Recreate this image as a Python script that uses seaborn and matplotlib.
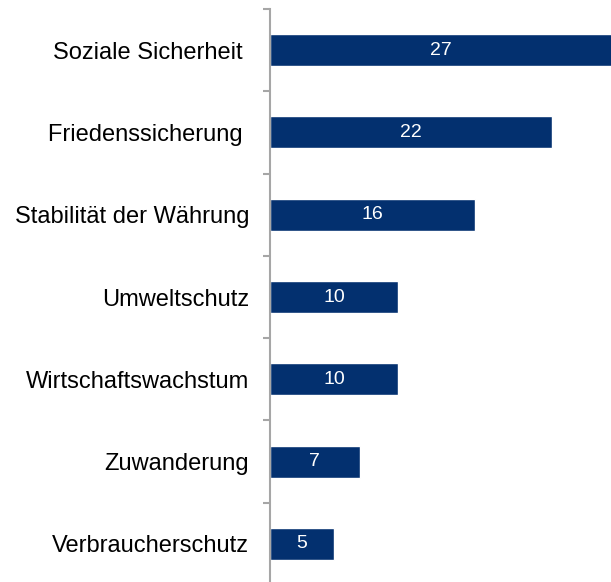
"""Horizontal bar chart: Themen-Prioritaeten."""

import matplotlib
import matplotlib.pyplot as plt
import numpy as np
import pandas as pd
import seaborn as sns

matplotlib.use("Agg")

categories = [
    "Soziale Sicherheit ",
    "Friedenssicherung ",
    "Stabilität der Währung",
    "Umweltschutz",
    "Wirtschaftswachstum",
    "Zuwanderung",
    "Verbraucherschutz",
]
values = [27, 22, 16, 10, 10, 7, 5]

BAR_COLOR = "#03306F"
AXIS_COLOR = "#A6A6A6"

sns.set_style("white")
plt.rcParams["font.family"] = ["Liberation Sans", "DejaVu Sans"]

df = pd.DataFrame({"Thema": categories, "Wert": values})

fig = plt.figure(figsize=(6.11, 5.82), dpi=100)
ax = fig.add_axes([270 / 611, -3 / 582, 341 / 611, 576 / 582])

sns.barplot(data=df, y="Thema", x="Wert", orient="h", color=BAR_COLOR,
            width=0.39, saturation=1, ax=ax)

ax.bar_label(ax.containers[0], labels=[str(v) for v in values], label_type="center",
             color="white", fontsize=14)

ax.set_xlim(0, 26.64)
ax.set_ylim(len(categories) - 0.5, -0.5)
ax.set_xlabel("")
ax.set_ylabel("")
ax.set_xticks([])

for side in ["top", "right", "bottom"]:
    ax.spines[side].set_visible(False)
ax.spines["left"].set_color(AXIS_COLOR)
ax.spines["left"].set_linewidth(1.5)

ax.set_yticks(np.arange(len(categories) + 1) - 0.5, minor=True)
ax.tick_params(axis="y", which="minor", length=5, width=1.5, color=AXIS_COLOR, left=True)
ax.tick_params(axis="y", which="major", length=0, pad=15, labelsize=17, labelcolor="black")

fig.savefig("out.png", dpi=100)
plt.close(fig)
